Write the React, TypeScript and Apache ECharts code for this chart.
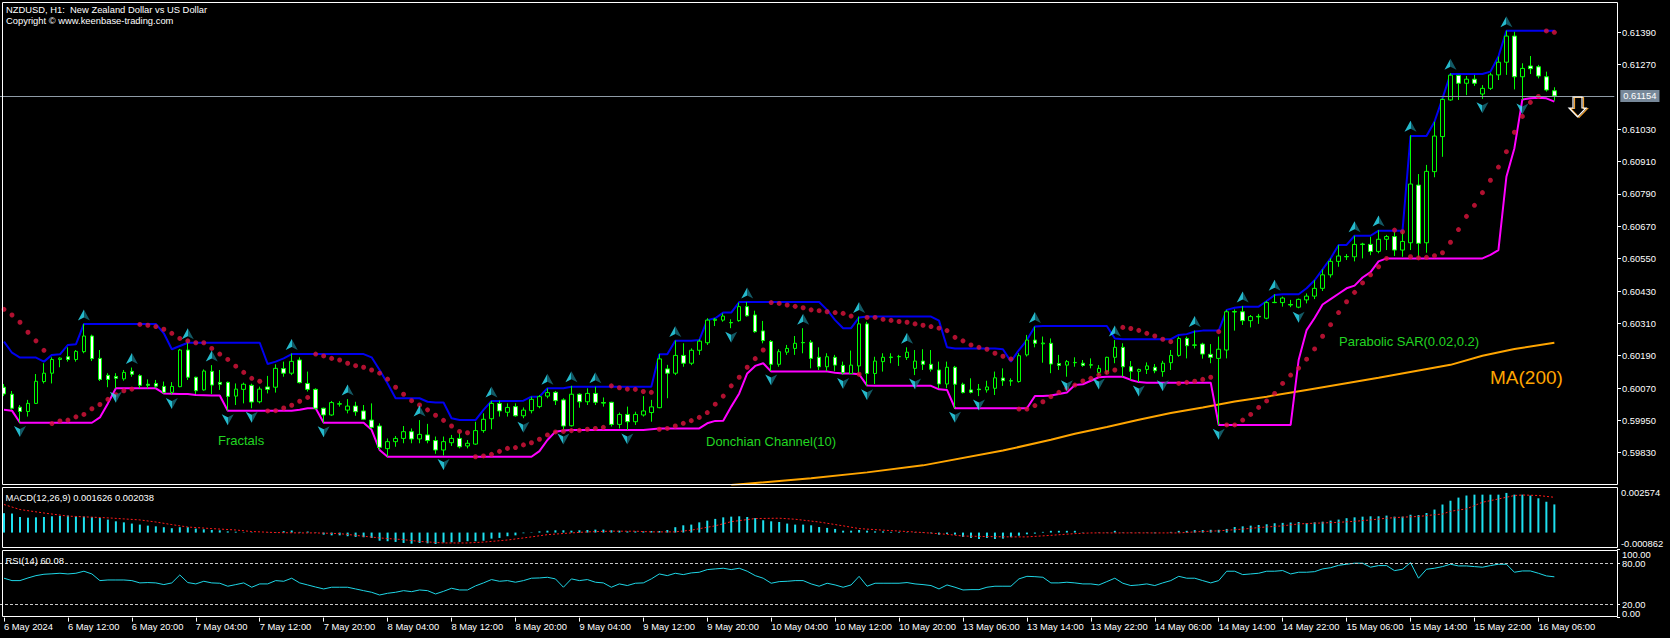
import React, { useEffect, useRef } from 'react';
import * as echarts from 'echarts';

// ---------- texts ----------
const TITLE_LINE_1 = 'NZDUSD, H1:  New Zealand Dollar vs US Dollar';
const TITLE_LINE_2 = 'Copyright © www.keenbase-trading.com';
const FIRST_LABEL = '6 May 2024';

// ---------- time categories (hourly bars) ----------
const SESSIONS: [string, number, number][] = [
  ['6 May', 4, 23], ['7 May', 0, 23], ['8 May', 0, 23], ['9 May', 0, 23], ['10 May', 0, 23],
  ['13 May', 2, 23], ['14 May', 0, 23], ['15 May', 0, 23], ['16 May', 0, 8],
];
const RIGHT_SHIFT_BARS = 7;

// ---------- candles ----------
const OPEN = [
  0.60073,0.60047,0.59999,0.59983,0.60013,0.60094,0.60125,0.60176,0.60186,0.60176,
  0.60205,0.60263,0.60180,0.60117,0.60113,0.60104,0.60132,0.60116,0.60084,0.60087,
  0.60076,0.60054,0.60075,0.60211,0.60110,0.60063,0.60132,0.60091,0.60091,0.60040,
  0.60065,0.60080,0.60019,0.60074,0.60073,0.60142,0.60125,0.60174,0.60087,0.60065,
  0.59995,0.59970,0.60010,0.59988,0.60003,0.59985,0.59951,0.59929,0.59845,0.59871,
  0.59883,0.59908,0.59881,0.59896,0.59875,0.59840,0.59867,0.59883,0.59855,0.59862,
  0.59912,0.59956,0.60013,0.59980,0.60001,0.59967,0.59986,0.60001,0.60040,0.60054,
  0.60026,0.59930,0.60047,0.60019,0.60050,0.60016,0.60017,0.59935,0.59972,0.59945,
  0.59970,0.59979,0.59997,0.60141,0.60125,0.60191,0.60162,0.60210,0.60238,0.60321,
  0.60322,0.60313,0.60320,0.60372,0.60341,0.60282,0.60243,0.60158,0.60203,0.60217,
  0.60239,0.60240,0.60184,0.60149,0.60184,0.60154,0.60124,0.60152,0.60308,0.60124,
  0.60168,0.60183,0.60186,0.60183,0.60143,0.60170,0.60158,0.60137,0.60085,0.60147,
  0.60084,0.60063,0.60066,0.60063,0.60069,0.60107,0.60097,0.60094,0.60193,0.60248,
  0.60234,0.60236,0.60161,0.60155,0.60164,0.60162,0.60156,0.60128,0.60131,0.60184,
  0.60221,0.60149,0.60132,0.60139,0.60147,0.60131,0.60164,0.60191,0.60254,0.60230,
  0.60233,0.60195,0.60180,0.60211,0.60352,0.60353,0.60320,0.60336,0.60329,0.60388,
  0.60387,0.60380,0.60370,0.60397,0.60411,0.60440,0.60490,0.60540,0.60558,0.60557,
  0.60604,0.60603,0.60577,0.60622,0.60632,0.60582,0.60609,0.60823,0.60609,0.60873,
  0.61003,0.61139,0.61230,0.61201,0.61216,0.61161,0.61182,0.61232,0.61279,0.61376,
  0.61225,0.61265,0.61262,0.61225,0.61173,
];
const HIGH = [
  0.60085,0.60059,0.60007,0.60026,0.60122,0.60162,0.60184,0.60184,0.60221,0.60211,
  0.60308,0.60268,0.60211,0.60125,0.60125,0.60137,0.60146,0.60121,0.60102,0.60100,
  0.60094,0.60092,0.60215,0.60238,0.60112,0.60139,0.60155,0.60137,0.60094,0.60087,
  0.60090,0.60086,0.60075,0.60115,0.60158,0.60168,0.60198,0.60184,0.60131,0.60069,
  0.59997,0.60022,0.60021,0.60029,0.60019,0.60007,0.60013,0.59939,0.59883,0.59892,
  0.59929,0.59920,0.59951,0.59937,0.59890,0.59890,0.59896,0.59905,0.59877,0.59945,
  0.59976,0.60022,0.60023,0.60013,0.60013,0.59998,0.60038,0.60044,0.60069,0.60059,
  0.60032,0.60078,0.60050,0.60069,0.60075,0.60035,0.60019,0.59979,0.60001,0.59982,
  0.60040,0.60026,0.60196,0.60156,0.60246,0.60236,0.60217,0.60251,0.60329,0.60330,
  0.60347,0.60325,0.60387,0.60389,0.60357,0.60319,0.60248,0.60214,0.60230,0.60263,
  0.60292,0.60248,0.60221,0.60199,0.60193,0.60168,0.60209,0.60335,0.60316,0.60186,
  0.60199,0.60199,0.60193,0.60221,0.60211,0.60214,0.60211,0.60168,0.60168,0.60152,
  0.60090,0.60106,0.60085,0.60097,0.60131,0.60143,0.60106,0.60199,0.60267,0.60298,
  0.60261,0.60254,0.60193,0.60174,0.60184,0.60174,0.60180,0.60155,0.60186,0.60248,
  0.60236,0.60170,0.60142,0.60165,0.60159,0.60171,0.60211,0.60261,0.60261,0.60283,
  0.60238,0.60233,0.60261,0.60360,0.60362,0.60374,0.60341,0.60345,0.60393,0.60418,
  0.60409,0.60397,0.60402,0.60421,0.60470,0.60510,0.60551,0.60601,0.60567,0.60635,
  0.60609,0.60631,0.60656,0.60638,0.60650,0.60650,0.61008,0.60864,0.60898,0.61058,
  0.61145,0.61238,0.61232,0.61228,0.61232,0.61194,0.61240,0.61300,0.61396,0.61392,
  0.61275,0.61302,0.61269,0.61244,0.61186,
];
const LOW = [
  0.60040,0.59990,0.59942,0.59964,0.60011,0.60087,0.60087,0.60147,0.60168,0.60168,
  0.60199,0.60170,0.60096,0.60073,0.60069,0.60097,0.60112,0.60069,0.60069,0.60069,
  0.60050,0.60046,0.60073,0.60100,0.60048,0.60060,0.60048,0.60063,0.59986,0.60007,
  0.60013,0.59995,0.60013,0.60050,0.60053,0.60112,0.60118,0.60087,0.60057,0.59989,
  0.59941,0.59967,0.60001,0.59976,0.59967,0.59951,0.59919,0.59840,0.59815,0.59852,
  0.59865,0.59865,0.59865,0.59865,0.59826,0.59820,0.59855,0.59846,0.59846,0.59859,
  0.59904,0.59917,0.59964,0.59964,0.59964,0.59958,0.59976,0.59995,0.60032,0.60007,
  0.59914,0.59927,0.59997,0.60007,0.60007,0.60001,0.59927,0.59920,0.59914,0.59933,
  0.59964,0.59945,0.59995,0.60032,0.60118,0.60149,0.60155,0.60193,0.60230,0.60300,
  0.60316,0.60292,0.60316,0.60335,0.60275,0.60236,0.60133,0.60149,0.60193,0.60193,
  0.60199,0.60143,0.60137,0.60133,0.60133,0.60120,0.60122,0.60124,0.60078,0.60085,
  0.60131,0.60162,0.60152,0.60174,0.60118,0.60137,0.60131,0.60069,0.60069,0.59995,
  0.60050,0.60050,0.60040,0.60053,0.60044,0.60078,0.60078,0.60090,0.60187,0.60221,
  0.60164,0.60125,0.60137,0.60112,0.60149,0.60149,0.60143,0.60118,0.60122,0.60162,
  0.60112,0.60100,0.60092,0.60122,0.60125,0.60112,0.60137,0.60186,0.60180,0.60217,
  0.60179,0.60162,0.59932,0.60180,0.60283,0.60304,0.60295,0.60308,0.60325,0.60385,
  0.60372,0.60370,0.60366,0.60384,0.60400,0.60430,0.60480,0.60520,0.60545,0.60540,
  0.60551,0.60563,0.60570,0.60582,0.60560,0.60557,0.60582,0.60551,0.60572,0.60852,
  0.60928,0.61136,0.61139,0.61157,0.61191,0.61143,0.61176,0.61213,0.61232,0.61178,
  0.61139,0.61235,0.61219,0.61170,0.61136,
];
const CLOSE = [
  0.60048,0.59995,0.59983,0.60013,0.60095,0.60125,0.60176,0.60181,0.60176,0.60206,
  0.60263,0.60179,0.60102,0.60102,0.60106,0.60128,0.60121,0.60080,0.60080,0.60077,
  0.60054,0.60076,0.60211,0.60110,0.60060,0.60133,0.60081,0.60084,0.60039,0.60066,
  0.60084,0.60018,0.60066,0.60065,0.60143,0.60125,0.60169,0.60090,0.60065,0.59995,
  0.59970,0.60016,0.60012,0.60003,0.59982,0.59954,0.59924,0.59850,0.59871,0.59883,
  0.59908,0.59881,0.59898,0.59875,0.59840,0.59871,0.59883,0.59852,0.59865,0.59912,
  0.59954,0.60013,0.59985,0.59998,0.59967,0.59988,0.60028,0.60038,0.60053,0.60023,
  0.59929,0.60047,0.60019,0.60050,0.60017,0.60014,0.59935,0.59972,0.59945,0.59972,
  0.59985,0.60000,0.60178,0.60125,0.60191,0.60162,0.60210,0.60244,0.60322,0.60325,
  0.60337,0.60312,0.60372,0.60338,0.60279,0.60246,0.60158,0.60205,0.60217,0.60236,
  0.60238,0.60180,0.60149,0.60186,0.60155,0.60127,0.60155,0.60308,0.60124,0.60170,
  0.60184,0.60185,0.60187,0.60203,0.60170,0.60158,0.60140,0.60085,0.60147,0.60084,
  0.60053,0.60054,0.60064,0.60074,0.60108,0.60097,0.60096,0.60190,0.60248,0.60236,
  0.60237,0.60159,0.60154,0.60168,0.60165,0.60154,0.60155,0.60143,0.60184,0.60221,
  0.60149,0.60132,0.60139,0.60152,0.60134,0.60162,0.60191,0.60254,0.60227,0.60229,
  0.60196,0.60184,0.60214,0.60353,0.60354,0.60320,0.60335,0.60334,0.60387,0.60387,
  0.60404,0.60378,0.60399,0.60411,0.60440,0.60490,0.60540,0.60560,0.60557,0.60603,
  0.60603,0.60577,0.60622,0.60632,0.60582,0.60614,0.60827,0.60607,0.60874,0.61005,
  0.61141,0.61231,0.61201,0.61216,0.61201,0.61182,0.61232,0.61279,0.61376,0.61225,
  0.61256,0.61255,0.61228,0.61176,0.61154,
];
const BID = 0.61154;

// ---------- Donchian Channel(10) ----------
const DONCHIAN_UP = [
  0.60242,0.60201,0.60183,0.60183,0.60183,0.60168,0.60193,0.60195,0.60230,0.60232,
  0.60308,0.60308,0.60308,0.60308,0.60308,0.60308,0.60308,0.60308,0.60308,0.60308,
  0.60273,0.60214,0.60226,0.60238,0.60238,0.60238,0.60238,0.60238,0.60238,0.60238,
  0.60238,0.60238,0.60238,0.60159,0.60168,0.60180,0.60196,0.60196,0.60196,0.60196,
  0.60196,0.60196,0.60196,0.60196,0.60196,0.60196,0.60184,0.60137,0.60087,0.60032,
  0.60032,0.60032,0.60032,0.60019,0.60016,0.60016,0.59958,0.59951,0.59951,0.59951,
  0.59989,0.60022,0.60022,0.60022,0.60022,0.60023,0.60038,0.60038,0.60069,0.60069,
  0.60069,0.60075,0.60075,0.60075,0.60075,0.60075,0.60075,0.60075,0.60075,0.60075,
  0.60075,0.60075,0.60195,0.60195,0.60245,0.60245,0.60245,0.60248,0.60322,0.60329,
  0.60350,0.60350,0.60389,0.60389,0.60389,0.60389,0.60389,0.60389,0.60389,0.60389,
  0.60389,0.60389,0.60389,0.60360,0.60322,0.60292,0.60292,0.60332,0.60335,0.60335,
  0.60335,0.60335,0.60335,0.60335,0.60335,0.60335,0.60335,0.60320,0.60221,0.60217,
  0.60217,0.60217,0.60217,0.60217,0.60217,0.60214,0.60168,0.60211,0.60248,0.60298,
  0.60300,0.60300,0.60300,0.60300,0.60300,0.60300,0.60300,0.60300,0.60300,0.60254,
  0.60251,0.60251,0.60251,0.60251,0.60251,0.60251,0.60251,0.60267,0.60270,0.60280,
  0.60283,0.60283,0.60283,0.60360,0.60368,0.60372,0.60372,0.60372,0.60393,0.60415,
  0.60418,0.60418,0.60418,0.60440,0.60470,0.60510,0.60551,0.60601,0.60601,0.60635,
  0.60635,0.60635,0.60654,0.60654,0.60654,0.60654,0.61005,0.61005,0.61005,0.61058,
  0.61145,0.61235,0.61235,0.61235,0.61235,0.61235,0.61244,0.61300,0.61396,0.61396,
  0.61396,0.61396,0.61396,0.61396,0.61396,
];
const DONCHIAN_LO = [
  0.59989,0.59986,0.59941,0.59941,0.59941,0.59941,0.59941,0.59941,0.59941,0.59941,
  0.59941,0.59941,0.59961,0.60013,0.60069,0.60069,0.60069,0.60069,0.60069,0.60069,
  0.60050,0.60049,0.60048,0.60048,0.60044,0.60043,0.60042,0.60042,0.59986,0.59986,
  0.59986,0.59986,0.59986,0.59986,0.59986,0.59986,0.59986,0.59989,0.59995,0.59995,
  0.59941,0.59941,0.59941,0.59941,0.59941,0.59941,0.59915,0.59840,0.59815,0.59815,
  0.59815,0.59815,0.59815,0.59815,0.59815,0.59815,0.59815,0.59815,0.59815,0.59815,
  0.59815,0.59815,0.59815,0.59815,0.59815,0.59815,0.59815,0.59836,0.59877,0.59908,
  0.59912,0.59914,0.59914,0.59914,0.59914,0.59914,0.59914,0.59914,0.59914,0.59914,
  0.59914,0.59917,0.59920,0.59920,0.59920,0.59920,0.59920,0.59920,0.59939,0.59948,
  0.59949,0.60001,0.60050,0.60124,0.60152,0.60162,0.60131,0.60131,0.60131,0.60131,
  0.60131,0.60131,0.60131,0.60131,0.60127,0.60124,0.60124,0.60121,0.60079,0.60078,
  0.60078,0.60078,0.60078,0.60078,0.60078,0.60078,0.60078,0.60065,0.60063,0.59995,
  0.59995,0.59995,0.59995,0.59995,0.59995,0.59995,0.59995,0.59995,0.59995,0.60040,
  0.60040,0.60042,0.60048,0.60053,0.60081,0.60084,0.60097,0.60110,0.60112,0.60112,
  0.60112,0.60100,0.60092,0.60090,0.60090,0.60090,0.60090,0.60090,0.60090,0.60090,
  0.60090,0.60090,0.59933,0.59933,0.59933,0.59933,0.59933,0.59933,0.59933,0.59933,
  0.59933,0.59933,0.60174,0.60285,0.60330,0.60380,0.60400,0.60420,0.60440,0.60450,
  0.60480,0.60500,0.60540,0.60551,0.60551,0.60551,0.60551,0.60551,0.60551,0.60551,
  0.60551,0.60551,0.60551,0.60551,0.60551,0.60551,0.60564,0.60582,0.60854,0.60960,
  0.61141,0.61145,0.61147,0.61145,0.61133,
];

// ---------- Parabolic SAR(0.02,0.2) ----------
const SAR = [
  0.60362,0.60341,0.60314,0.60277,0.60245,0.60210,0.59938,0.59948,0.59951,0.59963,
  0.59972,0.59993,0.60009,0.60028,0.60045,0.60060,0.60066,0.60306,0.60303,0.60298,
  0.60288,0.60273,0.60254,0.60245,0.60238,0.60238,0.60217,0.60196,0.60176,0.60151,
  0.60128,0.60106,0.60095,0.59985,0.59986,0.59996,0.60006,0.60021,0.60035,0.60196,
  0.60189,0.60180,0.60174,0.60162,0.60153,0.60147,0.60137,0.60125,0.60103,0.60073,
  0.60047,0.60023,0.60007,0.59989,0.59969,0.59950,0.59929,0.59909,0.59904,0.59815,
  0.59818,0.59824,0.59835,0.59846,0.59849,0.59859,0.59867,0.59880,0.59896,0.59907,
  0.59909,0.59912,0.59913,0.59917,0.59920,0.59924,0.60078,0.60071,0.60066,0.60065,
  0.60057,0.60054,0.59917,0.59920,0.59929,0.59939,0.59949,0.59961,0.59979,0.60010,
  0.60040,0.60078,0.60110,0.60147,0.60179,0.60211,0.60387,0.60384,0.60378,0.60373,
  0.60368,0.60360,0.60357,0.60353,0.60350,0.60347,0.60337,0.60121,0.60332,0.60332,
  0.60325,0.60321,0.60317,0.60314,0.60308,0.60303,0.60298,0.60292,0.60283,0.60258,
  0.60245,0.60230,0.60221,0.60214,0.60199,0.60188,0.60178,0.59992,0.59992,0.60005,
  0.60019,0.60038,0.60054,0.60069,0.60081,0.60096,0.60106,0.60118,0.60128,0.60137,
  0.60295,0.60291,0.60284,0.60273,0.60263,0.60251,0.60242,0.60087,0.60091,0.60095,
  0.60102,0.60110,0.60279,0.59933,0.59933,0.59951,0.59972,0.59998,0.60022,0.60050,
  0.60087,0.60118,0.60144,0.60177,0.60215,0.60262,0.60305,0.60350,0.60390,0.60425,
  0.60460,0.60490,0.60520,0.60551,0.60656,0.60650,0.60557,0.60553,0.60555,0.60561,
  0.60572,0.60611,0.60658,0.60707,0.60748,0.60795,0.60841,0.60890,0.60947,0.61019,
  0.61078,0.61130,0.61152,0.61395,0.61390,
];

// ---------- Fractals (bar indexes) ----------
const FRACTAL_UP = [10,16,23,26,36,43,52,61,68,71,74,84,93,100,107,113,129,139,149,155,159,169,172,176,181,188];
const FRACTAL_DOWN = [2,14,21,28,31,40,55,65,70,78,91,96,105,108,114,119,122,133,137,142,145,152,162,185,190];

// ---------- MA(200): [bar index, value] ----------
const MA200: [number, number][] = [
  [91,0.59710],[101,0.59735],[108,0.59757],[115,0.59783],[125,0.59838],[131,0.59878],
  [134,0.59900],[138,0.59925],[142,0.59952],[146,0.59977],[150,0.59998],[154,0.60020],
  [158,0.60038],[163,0.60063],[172,0.60108],[181,0.60156],[185,0.60190],[189,0.60215],[194,0.60238],
];

// ---------- MACD(12,26,9) ----------
const MACD_MAIN = [
  0.00112,0.00110,0.00090,0.00086,0.00088,0.00090,0.00094,0.00096,0.00098,0.00094,
  0.00092,0.00090,0.00084,0.00075,0.00065,0.00059,0.00052,0.00046,0.00040,0.00036,
  0.00031,0.00025,0.00031,0.00031,0.00023,0.00019,0.00015,0.00013,0.00007,0.00005,
  0.00002,-0.00002,0.00000,0.00001,0.00002,0.00008,0.00012,0.00004,0.00006,-0.00002,
  -0.00012,-0.00016,-0.00016,-0.00021,-0.00025,-0.00027,-0.00031,-0.00047,-0.00050,-0.00054,
  -0.00060,-0.00064,-0.00060,-0.00062,-0.00066,-0.00058,-0.00056,-0.00054,-0.00050,-0.00050,
  -0.00047,-0.00035,-0.00031,-0.00021,-0.00016,-0.00004,0.00002,0.00007,0.00011,0.00013,
  0.00013,0.00011,0.00013,0.00015,0.00017,0.00017,0.00013,0.00011,0.00007,0.00007,
  0.00007,0.00009,0.00009,0.00015,0.00031,0.00042,0.00046,0.00059,0.00069,0.00079,
  0.00088,0.00092,0.00094,0.00090,0.00084,0.00071,0.00065,0.00061,0.00052,0.00046,
  0.00046,0.00042,0.00032,0.00027,0.00021,0.00011,0.00011,0.00015,0.00011,0.00007,
  0.00007,0.00004,0.00004,0.00002,0.00002,0.00002,-0.00004,-0.00012,-0.00008,-0.00012,
  -0.00025,-0.00031,-0.00037,-0.00031,-0.00037,-0.00035,-0.00027,-0.00018,-0.00010,-0.00006,
  0.00004,0.00010,0.00010,0.00010,0.00010,0.00002,0.00000,-0.00002,-0.00002,0.00010,
  0.00002,-0.00002,-0.00002,-0.00002,-0.00004,0.00000,0.00004,0.00010,0.00010,0.00014,
  0.00014,0.00016,0.00016,0.00021,0.00032,0.00036,0.00040,0.00044,0.00048,0.00054,
  0.00056,0.00058,0.00061,0.00055,0.00059,0.00063,0.00069,0.00075,0.00083,0.00088,
  0.00092,0.00094,0.00094,0.00098,0.00092,0.00092,0.00103,0.00101,0.00113,0.00133,
  0.00162,0.00184,0.00202,0.00214,0.00219,0.00219,0.00219,0.00219,0.00229,0.00219,
  0.00219,0.00214,0.00198,0.00178,0.001626,
];
const MACD_SIGNAL: [number, number][] = [
  [0,0.00162],[2,0.00133],[5,0.00113],[8,0.00095],[10,0.00091],[13,0.00085],[15,0.00079],[17,0.00073],
  [19,0.00061],[21,0.00046],[23,0.00032],[26,0.00023],[29,0.00015],[31,0.00006],[34,0],[37,-0.00002],
  [39,-0.00002],[42,-0.00006],[44,-0.00016],[47,-0.00031],[50,-0.00041],[52,-0.00051],[55,-0.0006],
  [58,-0.0006],[60,-0.00055],[63,-0.00043],[66,-0.00025],[68,-0.00012],[71,-0.00002],[73,0.00004],
  [76,0.00008],[79,0.00008],[81,0.00004],[84,0.00004],[86,0.00014],[89,0.00039],[91,0.00063],
  [94,0.00081],[97,0.00083],[99,0.00077],[102,0.00061],[105,0.00039],[107,0.00023],[110,0.00014],
  [113,0.00006],[115,0],[118,-0.0001],[120,-0.0002],[123,-0.00023],[126,-0.00025],[128,-0.00025],
  [131,-0.00016],[134,-0.00006],[136,-0.00002],[139,-0.00002],[142,-0.00002],[144,-0.00002],
  [147,-0.00002],[149,0.00004],[152,0.0001],[155,0.0002],[157,0.00029],[160,0.00039],[162,0.0005],
  [164,0.00054],[167,0.00059],[169,0.00065],[171,0.00073],[173,0.00083],[175,0.00089],[177,0.00093],
  [179,0.00103],[180,0.00107],[181,0.00123],[183,0.00137],[184,0.00156],[185,0.00175],[187,0.00194],
  [189,0.00214],[190,0.00217],[192,0.00214],[194,0.002038],
];
const MACD_MIN = -0.000862;
const MACD_MAX = 0.002574;

// ---------- RSI(14) ----------
const RSI = [
  58.0,54.5,54.5,58.4,61.8,63.8,64.5,65.3,64.3,65.3,
  68.3,64.3,54.5,55.4,55.4,55.4,54.5,51.1,51.6,51.1,
  48.6,51.1,62.8,51.6,49.6,53.5,51.1,50.6,46.2,48.6,
  51.1,44.7,49.6,49.6,54.5,53.5,58.0,51.1,48.1,45.0,
  42.2,44.7,44.7,44.7,42.2,39.7,37.3,33.3,35.8,37.3,
  39.7,38.2,40.7,39.7,34.8,38.7,43.2,40.7,40.7,46.7,
  51.1,56.0,53.5,54.5,52.1,54.5,58.0,58.4,59.4,57.0,
  44.7,57.0,54.5,56.0,52.1,51.1,44.7,49.6,47.2,50.6,
  51.1,57.0,64.3,61.8,65.3,63.3,65.8,66.8,70.7,71.7,
  72.7,70.7,72.7,68.3,61.8,58.0,50.6,53.0,53.5,54.5,
  54.5,49.6,46.2,50.6,48.1,44.7,48.1,60.8,46.2,50.6,
  50.6,50.6,50.6,51.6,49.6,48.6,47.2,42.2,48.1,44.7,
  40.7,41.2,41.2,44.7,46.2,46.2,46.2,57.0,60.8,60.3,
  59.4,51.1,51.1,52.1,51.1,49.6,49.6,48.1,53.0,58.0,
  50.6,47.2,48.1,49.6,47.2,51.1,54.5,60.8,58.0,58.0,
  54.5,51.1,54.5,68.3,68.3,63.3,64.3,65.3,68.3,68.3,
  69.3,64.3,66.8,66.8,67.7,71.7,73.5,77.0,78.6,80.1,
  80.1,74.2,76.6,76.6,69.2,71.2,81.0,58.0,71.2,72.7,
  75.1,78.6,76.1,76.1,75.1,74.2,76.6,78.6,78.6,66.8,
  68.7,68.7,65.3,61.4,60.08,
];
const RSI_LEVELS = [20, 80];
const RSI_TICKS = [0, 20, 80, 100];

// ---------- price axis labels ----------
const PRICE_TICKS = [0.5983,0.5995,0.6007,0.6019,0.6031,0.6043,0.6055,0.6067,0.6079,0.6091,0.6103,0.6127,0.6139];
const PRICE_MIN = 0.59712;
const PRICE_MAX = 0.615006;

// ---------- indicator captions ----------
const LABEL_FRACTALS = 'Fractals';
const LABEL_DONCHIAN = 'Donchian Channel(10)';
const LABEL_SAR = 'Parabolic SAR(0.02,0.2)';
const LABEL_MA = 'MA(200)';

const FONT = '"Liberation Sans", Arial, sans-serif';

echarts.graphic.registerShape(
  'sellArrow',
  echarts.graphic.extendPath('M4,0 L13,0 L13,11 L17,11 L8.5,20 L0,11 L4,11 Z', {})
);

function buildCategories(): string[] {
  const out: string[] = [];
  SESSIONS.forEach(([day, from, to]) => {
    for (let h = from; h <= to; h++) out.push(`${day} ${h < 10 ? '0' + h : h}:00`);
  });
  return out;
}

export default function App() {
  const ref = useRef<HTMLDivElement>(null);
  useEffect(() => {
    document.body.style.margin = '0';
    document.body.style.background = '#000';
    if (!ref.current) return;
    const chart = echarts.init(ref.current, undefined, { renderer: 'svg' });
    const bars = buildCategories();
    const n = bars.length;
    const cats = bars.concat(Array.from({ length: RIGHT_SHIFT_BARS }, () => ''));
    const showIdx = (i: number) => i % 8 === 0 && i < n;

    const candleData = bars.map((_, i) => [OPEN[i], CLOSE[i], LOW[i], HIGH[i]]);
    const arrowGrad = new echarts.graphic.LinearGradient(0, 0, 1, 0, [
      { offset: 0, color: '#2ee8ff' }, { offset: 0.5, color: '#2ee8ff' },
      { offset: 0.5, color: '#17707e' }, { offset: 1, color: '#17707e' },
    ]);

    const xAxisBase = (g: number) => ({
      type: 'category', gridIndex: g, data: cats, boundaryGap: true,
      axisLine: { show: false }, splitLine: { show: false },
      axisTick: g === 2
        ? { show: true, alignWithLabel: true, interval: (i: number) => showIdx(i), length: 4, lineStyle: { color: '#ffffff' } }
        : { show: false },
      axisLabel: g === 2
        ? {
            show: true, interval: (i: number) => showIdx(i), align: 'left', margin: 4,
            color: '#ffffff', fontSize: 9.4, fontFamily: FONT,
            formatter: (v: string, i: number) => (i === 0 ? FIRST_LABEL : v),
          }
        : { show: false },
    });

    const option: any = {
      animation: false,
      backgroundColor: '#000000',
      grid: [
        { left: -1.7, top: 2.5, width: 1616, height: 482 },
        { left: -1.7, top: 488, width: 1616, height: 59.5 },
        { left: -1.7, top: 549.7, width: 1616, height: 67.9 },
      ],
      xAxis: [xAxisBase(0), xAxisBase(1), xAxisBase(2)],
      yAxis: [
        {
          type: 'value', gridIndex: 0, position: 'right', offset: 2.7, min: PRICE_MIN, max: PRICE_MAX,
          axisLine: { show: false }, splitLine: { show: false },
          axisTick: { show: true, length: 4, lineStyle: { color: '#ffffff' }, customValues: PRICE_TICKS },
          axisLabel: { customValues: PRICE_TICKS, formatter: (v: number) => v.toFixed(5), color: '#ffffff', fontSize: 9.4, fontFamily: FONT, margin: 5 },
        },
        {
          type: 'value', gridIndex: 1, position: 'right', offset: 2.7, min: MACD_MIN, max: MACD_MAX,
          axisLine: { show: false }, splitLine: { show: false }, axisTick: { show: false },
          axisLabel: {
            customValues: [MACD_MIN, MACD_MAX], formatter: (v: number) => v.toFixed(6), color: '#ffffff',
            fontSize: 9.4, fontFamily: FONT, margin: 4, verticalAlignMinLabel: 'bottom', verticalAlignMaxLabel: 'top',
          },
        },
        {
          type: 'value', gridIndex: 2, position: 'right', offset: 2.7, min: 0, max: 100,
          axisLine: { show: false }, splitLine: { show: false },
          axisTick: { show: true, length: 3, lineStyle: { color: '#ffffff' }, customValues: RSI_TICKS },
          axisLabel: {
            customValues: RSI_TICKS, formatter: (v: number) => v.toFixed(2), color: '#ffffff',
            fontSize: 9.4, fontFamily: FONT, margin: 5, verticalAlignMinLabel: 'bottom', verticalAlignMaxLabel: 'top',
          },
        },
      ],
      series: [
        {
          type: 'line', xAxisIndex: 0, yAxisIndex: 0, data: MA200, symbol: 'none', z: 2,
          lineStyle: { color: '#ffa500', width: 2 },
        },
        {
          type: 'line', xAxisIndex: 0, yAxisIndex: 0, data: DONCHIAN_UP, symbol: 'none', z: 2,
          lineStyle: { color: '#0000f0', width: 2 },
          markLine: {
            silent: true, symbol: ['none', 'none'], precision: 5, data: [{ yAxis: BID }],
            lineStyle: { color: '#8f9ba6', width: 1, type: 'solid' },
            label: {
              show: true, position: 'end', formatter: BID.toFixed(5), backgroundColor: '#778899', color: '#ffffff',
              fontSize: 9.4, fontFamily: FONT, padding: [2, 3, 1, 3], distance: 6,
            },
          },
        },
        {
          type: 'line', xAxisIndex: 0, yAxisIndex: 0, data: DONCHIAN_LO, symbol: 'none', z: 2,
          lineStyle: { color: '#ff00ff', width: 2 },
        },
        {
          type: 'candlestick', xAxisIndex: 0, yAxisIndex: 0, data: candleData, barWidth: 4, z: 3,
          itemStyle: { color: '#000000', color0: '#ffffff', borderColor: '#00ff00', borderColor0: '#00ff00', borderWidth: 1 },
        },
        {
          type: 'scatter', xAxisIndex: 0, yAxisIndex: 0, data: bars.map((_, i) => [i, SAR[i]]),
          symbol: 'circle', symbolSize: 5, z: 4, itemStyle: { color: '#dc143c' },
        },
        {
          type: 'scatter', xAxisIndex: 0, yAxisIndex: 0, data: FRACTAL_UP.map((i) => [i, HIGH[i]]),
          symbol: 'path://M6,0 L12,11 L6,8 L0,11 Z', symbolSize: [12, 11], symbolOffset: [0, -9], z: 5,
          itemStyle: { color: arrowGrad },
        },
        {
          type: 'scatter', xAxisIndex: 0, yAxisIndex: 0, data: FRACTAL_DOWN.map((i) => [i, LOW[i]]),
          symbol: 'path://M0,0 L6,3 L12,0 L6,11 Z', symbolSize: [12, 11], symbolOffset: [0, 9], z: 5,
          itemStyle: { color: arrowGrad },
        },
        {
          type: 'bar', xAxisIndex: 1, yAxisIndex: 1, data: MACD_MAIN, barWidth: 2, z: 2,
          itemStyle: { color: '#1ee0ef' },
        },
        {
          type: 'line', xAxisIndex: 1, yAxisIndex: 1, data: MACD_SIGNAL, symbol: 'none', z: 3,
          lineStyle: { color: '#ff1a1a', width: 1, type: [2, 2] },
        },
        {
          type: 'line', xAxisIndex: 2, yAxisIndex: 2, data: RSI, symbol: 'none', z: 3,
          lineStyle: { color: '#1ed6e6', width: 1 },
          markLine: {
            silent: true, symbol: ['none', 'none'], label: { show: false },
            data: RSI_LEVELS.map((v) => ({ yAxis: v })),
            lineStyle: { color: '#c8c8c8', width: 1, type: [3, 2] },
          },
        },
      ],
      graphic: [
        { type: 'rect', z: 100, silent: true, shape: { x: 2.5, y: 2.5, width: 1615, height: 482 }, style: { fill: 'none', stroke: '#ffffff', lineWidth: 1 } },
        { type: 'rect', z: 100, silent: true, shape: { x: 2.5, y: 487.5, width: 1615, height: 60 }, style: { fill: 'none', stroke: '#ffffff', lineWidth: 1 } },
        { type: 'rect', z: 100, silent: true, shape: { x: 2.5, y: 550.5, width: 1615, height: 66 }, style: { fill: 'none', stroke: '#ffffff', lineWidth: 1 } },
        { type: 'text', z: 100, x: 6, y: 9, style: { text: TITLE_LINE_1, fill: '#ffffff', font: `9.4px ${FONT}`, textVerticalAlign: 'middle', verticalAlign: 'middle' } },
        { type: 'text', z: 100, x: 6, y: 20, style: { text: TITLE_LINE_2, fill: '#ffffff', font: `9.4px ${FONT}`, textVerticalAlign: 'middle', verticalAlign: 'middle' } },
        { type: 'text', z: 100, x: 5.5, y: 497, style: { text: `MACD(12,26,9) ${MACD_MAIN[MACD_MAIN.length - 1].toFixed(6)} ${MACD_SIGNAL[MACD_SIGNAL.length - 1][1].toFixed(6)}`, fill: '#ffffff', font: `9.4px ${FONT}`, textVerticalAlign: 'middle', verticalAlign: 'middle' } },
        { type: 'text', z: 100, x: 5.5, y: 560, style: { text: `RSI(14) ${RSI[RSI.length - 1].toFixed(2)}`, fill: '#ffffff', font: `9.4px ${FONT}`, textVerticalAlign: 'middle', verticalAlign: 'middle' } },
        { type: 'text', z: 100, x: 218, y: 440, style: { text: LABEL_FRACTALS, fill: '#22d622', font: `13px ${FONT}`, textVerticalAlign: 'middle', verticalAlign: 'middle' } },
        { type: 'text', z: 100, x: 706, y: 441, style: { text: LABEL_DONCHIAN, fill: '#22d622', font: `13px ${FONT}`, textVerticalAlign: 'middle', verticalAlign: 'middle' } },
        { type: 'text', z: 100, x: 1339, y: 341, style: { text: LABEL_SAR, fill: '#22d622', font: `13px ${FONT}`, textVerticalAlign: 'middle', verticalAlign: 'middle' } },
        { type: 'text', z: 100, x: 1490, y: 377, style: { text: LABEL_MA, fill: '#ffa500', font: `19px ${FONT}`, textVerticalAlign: 'middle', verticalAlign: 'middle' } },
        { type: 'sellArrow', z: 100, x: 1570.5, y: 97.5, style: { fill: 'none', stroke: '#f0a030', lineWidth: 1.2 } },
        { type: 'sellArrow', z: 101, x: 1569, y: 97, style: { fill: 'none', stroke: '#ffffff', lineWidth: 1.2 } },
      ],
    };
    chart.setOption(option);
    return () => chart.dispose();
  }, []);
  return <div ref={ref} style={{ width: 1670, height: 638, background: '#000' }} />;
}
